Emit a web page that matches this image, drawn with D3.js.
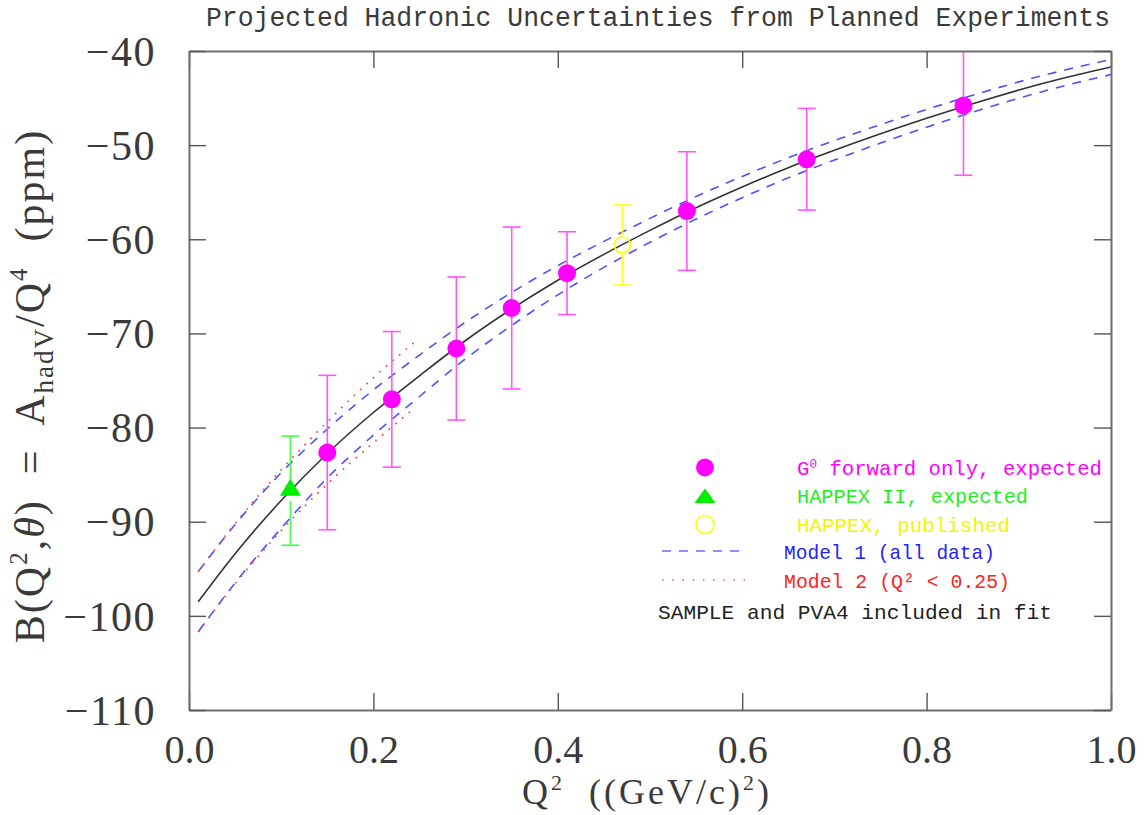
<!DOCTYPE html>
<html>
<head>
<meta charset="utf-8">
<script src="https://cdn.jsdelivr.net/npm/d3@7"></script>
<style>
  html, body { margin: 0; padding: 0; background: #fff; }
  svg { display: block; }
  .serif { font-family: "Liberation Serif", "Times New Roman", serif; }
  .mono { font-family: "Liberation Mono", "Courier New", monospace; }
</style>
</head>
<body>
<svg id="chart" width="1144" height="815"></svg>
<script>
// Q^2 grid (GeV/c)^2 on which the fitted curves are tabulated
const qGrid = [0.01, 0.05, 0.10, 0.15, 0.20, 0.25, 0.30, 0.35, 0.40, 0.45, 0.50,
               0.55, 0.60, 0.65, 0.70, 0.75, 0.80, 0.85, 0.90, 0.95, 1.00];
// central fit B(Q^2, theta) in ppm
const fitCentral = [-98.5, -93.4, -87.75, -82.75, -78.4, -74.5, -70.75, -67.4, -64.35, -61.6, -59.05,
                    -56.65, -54.45, -52.4, -50.55, -48.8, -47.15, -45.6, -44.15, -42.85, -41.7];
// Model 1 (all data) error band
const model1Upper = [-95.3, -90.3, -84.8, -80.15, -76.0, -72.3, -68.8, -65.65, -62.8, -60.22, -57.78,
                     -55.45, -53.32, -51.33, -49.52, -47.82, -46.21, -44.7, -43.28, -42.02, -40.9];
const model1Lower = [-101.7, -96.5, -90.7, -85.35, -80.8, -76.7, -72.7, -69.15, -65.9, -62.98, -60.32,
                     -57.85, -55.58, -53.47, -51.58, -49.78, -48.09, -46.5, -45.02, -43.68, -42.5];
// Model 2 (Q^2 < 0.25) error band
const qModel2 = [0.01, 0.05, 0.10, 0.15, 0.20, 0.245];
const model2Upper = [-95.3, -90.2, -84.5, -79.4, -74.7, -70.9];
const model2Lower = [-101.7, -96.6, -90.95, -86.0, -81.6, -77.9];

// G0 forward-angle projected points
const g0Q   = [0.15, 0.22, 0.29, 0.35, 0.41, 0.54, 0.67, 0.84];
const g0B   = [-82.65, -77.0, -71.6, -67.3, -63.6, -57.0, -51.5, -45.8];
const g0Err = [8.2, 7.2, 7.6, 8.6, 4.4, 6.3, 5.4, 7.4];
// HAPPEX II projected point
const happex2Q = [0.11], happex2B = [-86.7], happex2Err = [5.8];
// HAPPEX published point
const happexQ = [0.47], happexB = [-60.6], happexErr = [4.25];

const xTicks = [0.0, 0.2, 0.4, 0.6, 0.8, 1.0];
const yTicks = [-110, -100, -90, -80, -70, -60, -50, -40];

const svg = d3.select("#chart");
const L = 189, R = 1111, T = 51, B = 710;
const x = d3.scaleLinear().domain([0, 1]).range([L, R]);
const y = d3.scaleLinear().domain([-110, -40]).range([B, T]);

const frameColor = "#6e6e6e";
const textColor = "#3a3a3a";
const tickLen = 17;

// clip region for the plotting area
svg.append("defs").append("clipPath").attr("id", "plotClip")
  .append("rect").attr("x", L).attr("y", T).attr("width", R - L).attr("height", B - T);

const plot = svg.append("g").attr("clip-path", "url(#plotClip)");

const line = d3.line().x(d => x(d[0])).y(d => y(d[1])).curve(d3.curveMonotoneX);
const zipQ = (qs, vs) => qs.map((q, i) => [q, vs[i]]);

// Model 1 band (blue dashed)
[model1Upper, model1Lower].forEach(vals => {
  plot.append("path").attr("d", line(zipQ(qGrid, vals)))
    .attr("fill", "none").attr("stroke", "#5050ff").attr("stroke-width", 1.6)
    .attr("stroke-dasharray", "9,8");
});
// Model 2 band (red dotted)
[model2Upper, model2Lower].forEach(vals => {
  plot.append("path").attr("d", line(zipQ(qModel2, vals)))
    .attr("fill", "none").attr("stroke", "#ff4040").attr("stroke-width", 1.7)
    .attr("stroke-dasharray", "1.7,7");
});
// central fit (solid)
plot.append("path").attr("d", line(zipQ(qGrid, fitCentral)))
  .attr("fill", "none").attr("stroke", "#333").attr("stroke-width", 1.6);

// error bars leaving a gap around the marker
function errorBars(qs, vs, es, color, gapTop, gapBot) {
  const g = plot.append("g").attr("stroke", color).attr("stroke-width", 1.6).attr("fill", "none");
  qs.forEach((q, i) => {
    const cx = x(q), cy = y(vs[i]);
    const yTop = y(vs[i] + es[i]), yBot = y(vs[i] - es[i]);
    g.append("line").attr("x1", cx).attr("x2", cx).attr("y1", yTop).attr("y2", cy - gapTop);
    g.append("line").attr("x1", cx).attr("x2", cx).attr("y1", cy + gapBot).attr("y2", yBot);
    g.append("line").attr("x1", cx - 9).attr("x2", cx + 9).attr("y1", yTop).attr("y2", yTop);
    g.append("line").attr("x1", cx - 9).attr("x2", cx + 9).attr("y1", yBot).attr("y2", yBot);
  });
}
errorBars(g0Q, g0B, g0Err, "#ff55ff", 0, 0);
errorBars(happex2Q, happex2B, happex2Err, "#44ff44", 8, 10);
errorBars(happexQ, happexB, happexErr, "#ffff22", 8.5, 8.5);

function triPath(cx, cy) {
  // apex above, flat base below
  return `M${cx},${cy - 10.5}L${cx + 10.5},${cy + 6.5}L${cx - 10.5},${cy + 6.5}Z`;
}

// markers
plot.append("g").selectAll("circle").data(g0Q).join("circle")
  .attr("cx", d => x(d)).attr("cy", (d, i) => y(g0B[i])).attr("r", 9)
  .attr("fill", "#ff00ff");
plot.append("g").selectAll("path").data(happex2Q).join("path")
  .attr("d", (d, i) => triPath(x(d), y(happex2B[i]) - 1.5)).attr("fill", "#00ee00");
plot.append("g").selectAll("circle").data(happexQ).join("circle")
  .attr("cx", d => x(d)).attr("cy", (d, i) => y(happexB[i])).attr("r", 8)
  .attr("fill", "none").attr("stroke", "#ffff00").attr("stroke-width", 1.6);

// axes: ticks point inward on all four sides
function styleAxis(g) {
  g.select(".domain").attr("stroke", frameColor).attr("stroke-width", 2);
  g.selectAll(".tick line").attr("stroke", "#555").attr("stroke-width", 1.4);
}
const fmtX = d3.format(".1f");
svg.append("g").attr("transform", `translate(0,${B})`)
  .call(d3.axisBottom(x).tickValues(xTicks).tickSizeInner(-tickLen).tickSizeOuter(0)
        .tickPadding(25).tickFormat(fmtX))
  .call(styleAxis)
  .call(g => g.selectAll("text").attr("class", "serif").attr("font-size", 40)
        .attr("fill", textColor).attr("font-family", null));
svg.append("g").attr("transform", `translate(0,${T})`)
  .call(d3.axisTop(x).tickValues(xTicks).tickSizeInner(-tickLen).tickSizeOuter(0).tickFormat(""))
  .call(styleAxis);
svg.append("g").attr("transform", `translate(${L},0)`)
  .call(d3.axisLeft(y).tickValues(yTicks).tickSizeInner(-tickLen).tickSizeOuter(0)
        .tickPadding(33).tickFormat(d3.format("d")))
  .call(styleAxis)
  .call(g => g.selectAll("text").attr("class", "serif").attr("font-size", 42)
        .attr("fill", textColor).attr("font-family", null).attr("dy", "0.34em")
        .attr("letter-spacing", 1.5));
svg.append("g").attr("transform", `translate(${R},0)`)
  .call(d3.axisRight(y).tickValues(yTicks).tickSizeInner(-tickLen).tickSizeOuter(0).tickFormat(""))
  .call(styleAxis);

// title
svg.append("text").attr("class", "mono").attr("x", 206).attr("y", 26)
  .attr("font-size", 27).attr("fill", textColor)
  .attr("textLength", 904).attr("lengthAdjust", "spacingAndGlyphs")
  .text("Projected Hadronic Uncertainties from Planned Experiments");

// x-axis title
const xt = svg.append("text").attr("class", "serif").attr("x", 647).attr("y", 804)
  .attr("text-anchor", "middle").attr("font-size", 36).attr("fill", textColor)
  .attr("letter-spacing", 3).style("white-space", "pre");
xt.append("tspan").text("Q");
xt.append("tspan").attr("font-size", 22).attr("dy", -14).text("2");
xt.append("tspan").attr("dy", 14).text("  ((GeV/c)");
xt.append("tspan").attr("font-size", 22).attr("dy", -14).text("2");
xt.append("tspan").attr("dy", 14).text(")");

// y-axis title (rotated)
const yt = svg.append("text").attr("class", "serif")
  .attr("transform", "translate(44,386) rotate(-90)")
  .attr("text-anchor", "middle").attr("font-size", 42).attr("fill", textColor)
  .attr("letter-spacing", 2).style("white-space", "pre");
yt.append("tspan").text("B(Q");
yt.append("tspan").attr("font-size", 25).attr("dy", -17).text("2");
yt.append("tspan").attr("dy", 17).text(",");
yt.append("tspan").attr("font-style", "italic").text("θ");
yt.append("tspan").text(")  =  A");
yt.append("tspan").attr("font-size", 27).attr("dy", 9).text("hadV");
yt.append("tspan").attr("dy", -9).text("/Q");
yt.append("tspan").attr("font-size", 25).attr("dy", -17).text("4");
yt.append("tspan").attr("dy", 17).text("  (ppm)");

// legend
const leg = svg.append("g");
const legSymX = 705;
const legFont = 21;
leg.append("circle").attr("cx", legSymX).attr("cy", 467.5).attr("r", 9).attr("fill", "#ff00ff");
leg.append("path").attr("d", triPath(legSymX, 497.5)).attr("fill", "#00ee00")
  .attr("transform", `translate(${legSymX},497.5) scale(1,0.85) translate(${-legSymX},-497.5)`);
leg.append("circle").attr("cx", legSymX).attr("cy", 524.5).attr("r", 9)
  .attr("fill", "none").attr("stroke", "#ffff00").attr("stroke-width", 1.6);
leg.append("line").attr("x1", 662).attr("x2", 747).attr("y1", 551).attr("y2", 551)
  .attr("stroke", "#6a6aff").attr("stroke-width", 1.6).attr("stroke-dasharray", "9,8");
leg.append("line").attr("x1", 662).attr("x2", 747).attr("y1", 580).attr("y2", 580)
  .attr("stroke", "#ff5a5a").attr("stroke-width", 1.6).attr("stroke-dasharray", "1.6,8.6");

const g0Text = leg.append("text").attr("class", "mono").attr("x", 797).attr("y", 475)
  .attr("font-size", legFont).attr("fill", "#ff00ff")
  .attr("textLength", 305).attr("lengthAdjust", "spacingAndGlyphs");
g0Text.append("tspan").text("G");
g0Text.append("tspan").attr("font-size", 13).attr("dy", -7).text("0");
g0Text.append("tspan").attr("dy", 7).text(" forward only, expected");

leg.append("text").attr("class", "mono").attr("x", 797).attr("y", 503)
  .attr("font-size", legFont).attr("fill", "#22ee22")
  .attr("textLength", 231).attr("lengthAdjust", "spacingAndGlyphs")
  .text("HAPPEX II, expected");
leg.append("text").attr("class", "mono").attr("x", 797).attr("y", 531.5)
  .attr("font-size", legFont).attr("fill", "#f4f400")
  .attr("textLength", 213).attr("lengthAdjust", "spacingAndGlyphs")
  .text("HAPPEX, published");
leg.append("text").attr("class", "mono").attr("x", 784).attr("y", 559)
  .attr("font-size", legFont).attr("fill", "#2222ff")
  .attr("textLength", 211).attr("lengthAdjust", "spacingAndGlyphs")
  .text("Model 1 (all data)");
leg.append("text").attr("class", "mono").attr("x", 784).attr("y", 588)
  .attr("font-size", legFont).attr("fill", "#ff2222")
  .attr("textLength", 226).attr("lengthAdjust", "spacingAndGlyphs")
  .text("Model 2 (Q² < 0.25)");
leg.append("text").attr("class", "mono").attr("x", 658).attr("y", 619)
  .attr("font-size", legFont).attr("fill", "#222")
  .attr("textLength", 394).attr("lengthAdjust", "spacingAndGlyphs")
  .text("SAMPLE and PVA4 included in fit");
</script>
</body>
</html>
